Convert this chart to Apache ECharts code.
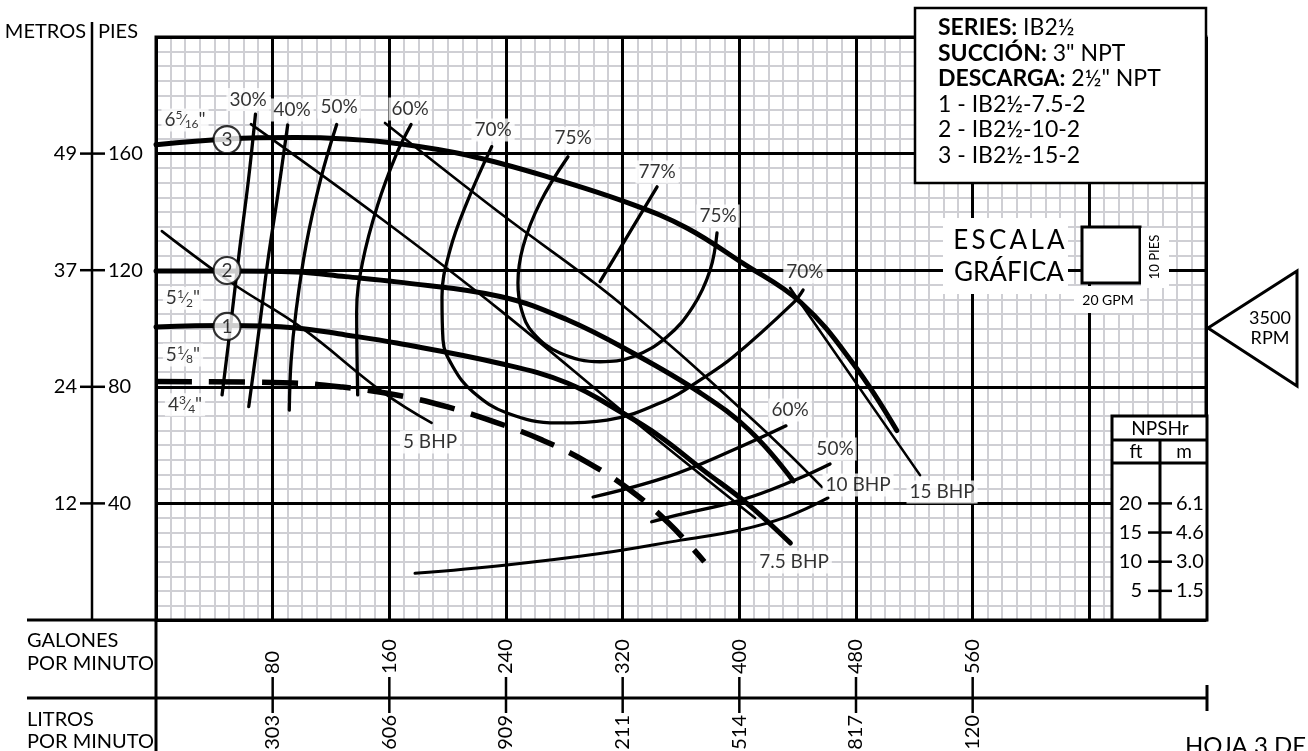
<!DOCTYPE html>
<html>
<head>
<meta charset="utf-8">
<title>IB2½ - curva de bomba</title>
<script src="https://cdn.jsdelivr.net/npm/echarts@6.0.0/dist/echarts.min.js"></script>
<style>
html, body { margin: 0; padding: 0; background: #fff; }
#chart { width: 1308px; height: 751px; }
</style>
</head>
<body>
<div id="chart"></div>
<script>
// axis ticks
var gpmTicks = [80, 160, 240, 320, 400, 480, 560];
var litrosTicks = ['303', '606', '909', '1211', '1514', '1817', '2120'];
var piesTicks = [40, 80, 120, 160];
var metrosTicks = ['12', '24', '37', '49'];
var npshFtTicks = [5, 10, 15, 20];
var npshMTicks = ['1.5', '3.0', '4.6', '6.1'];

// impeller curves [GPM, ft]
var imp3 = [[0,163],[49,165],[96,165.5],[130,165],[165,163.5],[213,159.5],[272,151.5],[327,142.5],[364,134.5],[402,122.5],[442,109],[478,88],[508,65]];
var imp2 = [[0,119.7],[49,119.7],[96,119.4],[130,117.8],[165,116],[236,111],[282,103],[327,91.6],[373,78],[407,65],[437,47.7]];
var imp1 = [[0,100.5],[49,101],[96,100.2],[130,97.8],[165,95],[236,88],[282,81.3],[320,71],[346,62.8],[375,51.5],[405,40.1],[435,26.4]];
var imp0 = [[0,81.8],[94,81.3],[128,79.9],[165,77.2],[200,73.1],[232,68],[265,61.7],[296,54],[325,44.6],[352,33],[376,20]];

// efficiency lines
var eff30 = [[68.2,173.5],[63.4,151],[57.3,127],[51.4,102],[45.3,77.2]];
var eff40 = [[90.3,169.8],[83.5,145.8],[76.6,122.9],[70.8,100.1],[63.6,73.2]];
var eff50 = [[123.9,170],[113.1,151.6],[102.9,128.6],[96,105.8],[92.6,88.6],[91.4,72]];
var eff60 = [[174.9,170],[164.6,159.5],[152,142.4],[141.7,122.9],[137.6,105.8],[138.3,77.2]];
var eff70 = [[230.2,162.4],[213.1,143.1],[201.6,126.9],[196.1,110.8],[196.8,96.1],[203.7,86.8],[217.4,78.2],[240.7,71],[275,67.6],[309.3,68.6],[350.4,75.5],[373,82.3],[395.7,90.2],[436.8,108.7],[443.7,113.2]];
var eff75 = [[282.5,158.9],[263.3,143.1],[251.7,128.1],[248.2,115.6],[250.7,106.3],[258.5,98.5],[277,91.6],[304.5,88.6],[327.1,90.3],[350.4,97.2],[368.2,107.5],[380,120.1],[384.7,132.8]];
var eff77 = [[343.6,148.6],[304.5,116.1]];
var eff60b = [[299.7,42.2],[350.4,49.1],[395.7,58.3],[432,66.6]];
var eff50b = [[339.9,33.7],[352.5,35.4],[401.6,41.2],[438.2,48],[462.2,53.5]];

// power lines
var bhp5 = [[4,133.4],[52,115.6],[100,100.2],[156,78],[189,67.6]];
var bhp75 = [[65.1,170.1],[155.7,137.2],[235.9,106.3],[327.1,68.6],[410.8,35]];
var bhp10 = [[157,170.5],[235.9,139.6],[318.2,108.7],[409.4,68.6],[456.7,45.6]];
var bhp15 = [[434.8,113.9],[523.9,49.7]];

// NPSHr curve
var npshrCurve = [[177.6,16],[240.5,18.9],[304.5,22.8],[360,27.4],[400.5,30.9],[432.4,35.4],[460.8,41.9]];

// impeller markers and curve labels
var circles = [[48.7,164.8,'3'],[48.7,119.9,'2'],[48.7,100.7,'1']];
var curveLabels = [
	[19.9,171.5,'6{sup|5}{sl|⁄}{sub|16}"'],
	[18.5,110.4,'5{sup|1}{sl|⁄}{sub|2}"'],
	[18.5,90.9,'5{sup|1}{sl|⁄}{sub|8}"'],
	[19.9,73.8,'4{sup|3}{sl|⁄}{sub|4}"'],
	[63.1,178.6,'30%'],
	[93.3,175,'40%'],
	[125.5,176,'50%'],
	[174.2,175.3,'60%'],
	[231.1,168.1,'70%'],
	[286,165.3,'75%'],
	[343.6,153.7,'77%'],
	[385.4,138.6,'75%'],
	[445,119.4,'70%'],
	[434.8,72,'60%'],
	[465.6,58.7,'50%'],
	[187.9,61.1,'5 BHP'],
	[437.5,19.9,'7.5 BHP'],
	[481.4,46.3,'10 BHP'],
	[539,43.9,'15 BHP']
];

var FONT = 'Lato';
var L = 156, T = 37, W = 1050, H = 583;
var R = L + W, B = T + H;
var GAXIS = B + 78;

var chart = echarts.init(document.getElementById('chart'));

function curve(data, width, dash) {
	return {
		type: 'line',
		data: data,
		xAxisIndex: 0,
		yAxisIndex: 0,
		symbol: 'none',
		smooth: 0.4,
		silent: true,
		z: 2,
		lineStyle: {color: '#000', width: width, type: dash || 'solid', cap: dash ? 'butt' : 'round'}
	};
}

function line(x1, y1, x2, y2, w, z) {
	return {type: 'line', z: z || 3, shape: {x1: x1, y1: y1, x2: x2, y2: y2}, style: {stroke: '#000', lineWidth: w}};
}
function box(x, y, w, h, lw) {
	return {type: 'rect', z: 3, shape: {x: x, y: y, width: w, height: h},
		style: lw ? {fill: '#fff', stroke: '#000', lineWidth: lw} : {fill: '#fff'}};
}
function text(str, x, y, size, align, extra) {
	var el = {type: 'text', z: 6, x: x, y: y, style: {
		text: str, x: 0, y: 0, font: size + 'px ' + FONT, fill: '#000',
		textAlign: align || 'left', textVerticalAlign: 'middle'
	}};
	if (extra) for (var k in extra) el[k] = extra[k];
	return el;
}

var richFrac = {
	sup: {fontSize: 12, fontFamily: FONT, color: '#000', verticalAlign: 'top', lineHeight: 21},
	sub: {fontSize: 12, fontFamily: FONT, color: '#000', verticalAlign: 'bottom', lineHeight: 21},
	sl: {fontSize: 16, fontFamily: FONT, color: '#000', lineHeight: 21}
};

var legendText = '{b|SERIES:} IB2½\n{b|SUCCIÓN:} 3" NPT\n{b|DESCARGA:} 2½" NPT\n1 - IB2½-7.5-2\n2 - IB2½-10-2\n3 - IB2½-15-2';

var graphics = [
	{type: 'rect', z: 1, shape: {x: L, y: T, width: W, height: H}, style: {fill: 'none', stroke: '#000', lineWidth: 3}},
	line(92, 22, 92, B, 2.5),
	line(27, B, L, B, 3),
	line(27, GAXIS, R + 1, GAXIS, 3),
	line(R + 1, GAXIS - 13, R + 1, GAXIS + 13, 3),
	line(L, B, L, 751, 3),
	box(915, 8, 291, 175, 2.5),
	box(943, 218, 125, 76),
	box(1082, 227, 58, 56, 3),
	box(1141, 228, 28, 60),
	box(1074, 286, 66, 27),
	box(1112, 416, 95, 204, 3),
	line(1112, 440, 1207, 440, 3),
	line(1112, 463, 1207, 463, 3),
	line(1160, 440, 1160, B, 3),
	{type: 'polygon', z: 3, shape: {points: [[1208, 328], [1297, 271], [1297, 386]]},
		style: {fill: '#fff', stroke: '#000', lineWidth: 3}},
	text('METROS', 86, 32, 20, 'right'),
	text('PIES', 98, 32, 20, 'left'),
	text('GALONES', 27, 641, 20),
	text('POR MINUTO', 27, 664, 20),
	text('LITROS', 27, 720, 20),
	text('POR MINUTO', 27, 742, 20),
	text('E\u2009S\u2009C\u2009A\u2009L\u2009A', 1009, 241, 26, 'center'),
	text('GRÁFICA', 1009, 273, 26, 'center'),
	text('10 PIES', 1155, 257, 13, 'center', {rotation: Math.PI / 2}),
	text('20 GPM', 1108, 300, 14, 'center'),
	text('3500', 1270, 318, 18, 'center'),
	text('RPM', 1270, 338, 18, 'center'),
	text('NPSHr', 1160, 429, 19, 'center'),
	text('ft', 1136, 452, 19, 'center'),
	text('m', 1184, 452, 19, 'center'),
	text('HOJA 3 DE 3', 1185, 746, 24, 'left'),
	{type: 'text', z: 6, x: 938, y: 15, style: {
		text: legendText, x: 0, y: 0, font: '23px ' + FONT, fill: '#000', lineHeight: 25.5,
		textAlign: 'left', textVerticalAlign: 'top',
		rich: {b: {font: 'bold 23px ' + FONT, fill: '#000', lineHeight: 25.5}}
	}}
];

var axisFont = {fontFamily: FONT, fontSize: 20, color: '#000'};
var noTick = {show: false};
var hidden = {show: false};

var option = {
	animation: false,
	backgroundColor: '#fff',
	grid: [
		{left: L, top: T, width: W, height: H, show: false, containLabel: false, outerBoundsMode: 'none'},
		{left: 1160, top: T, width: 46, height: H, show: false, containLabel: false, outerBoundsMode: 'none'}
	],
	xAxis: [
		{
			// GPM labels + major grid
			type: 'value', gridIndex: 0, min: 0, max: 720, interval: 80,
			position: 'bottom', offset: GAXIS - B, z: 1,
			axisLine: hidden, axisTick: noTick,
			axisLabel: Object.assign({inside: true, rotate: 90, margin: 24, customValues: gpmTicks}, axisFont),
			splitLine: {show: true, lineStyle: {color: '#000', width: 3}}
		},
		{
			// litros labels
			type: 'value', gridIndex: 0, min: 0, max: 720, interval: 80,
			position: 'bottom', offset: GAXIS - B, z: 1,
			axisLine: hidden, axisTick: noTick,
			axisLabel: Object.assign({rotate: 90, margin: 17, customValues: gpmTicks,
				formatter: function (v) { return litrosTicks[gpmTicks.indexOf(v)]; }}, axisFont),
			splitLine: hidden
		},
		{
			// minor grid every 10 GPM
			type: 'value', gridIndex: 0, min: 0, max: 720, interval: 10, position: 'top', z: 0,
			axisLine: hidden, axisTick: noTick, axisLabel: hidden,
			splitLine: {show: true, lineStyle: {color: '#cfcfd4', width: 2}}
		},
		{type: 'value', gridIndex: 1, min: 0, max: 1, show: false}
	],
	yAxis: [
		{
			// pies labels + major grid
			type: 'value', gridIndex: 0, min: 0, max: 200, interval: 40,
			position: 'left', offset: L - 92, z: 1,
			axisLine: hidden, axisTick: noTick,
			axisLabel: Object.assign({inside: true, margin: 16, customValues: piesTicks}, axisFont),
			splitLine: {show: true, lineStyle: {color: '#000', width: 3}}
		},
		{
			// metros labels
			type: 'value', gridIndex: 0, min: 0, max: 200, interval: 40,
			position: 'left', offset: L - 92, z: 1,
			axisLine: hidden, axisTick: noTick,
			axisLabel: Object.assign({margin: 15, customValues: piesTicks,
				formatter: function (v) { return metrosTicks[piesTicks.indexOf(v)]; }}, axisFont),
			splitLine: hidden
		},
		{
			// minor grid every 5 ft
			type: 'value', gridIndex: 0, min: 0, max: 200, interval: 5, position: 'right', z: 0,
			axisLine: hidden, axisTick: noTick, axisLabel: hidden,
			splitLine: {show: true, lineStyle: {color: '#cfcfd4', width: 2}}
		},
		{
			type: 'value', gridIndex: 1, min: 0, max: 100, position: 'left', z: 5,
			axisLine: hidden, axisTick: noTick,
			axisLabel: Object.assign({margin: 18, customValues: npshFtTicks}, axisFont),
			splitLine: hidden
		},
		{
			type: 'value', gridIndex: 1, min: 0, max: 100, position: 'left', z: 5,
			axisLine: hidden, axisTick: noTick,
			axisLabel: Object.assign({inside: true, margin: 16, customValues: npshFtTicks,
				formatter: function (v) { return npshMTicks[npshFtTicks.indexOf(v)]; }}, axisFont),
			splitLine: hidden
		}
	],
	series: [
		curve(imp3, 5),
		curve(imp2, 5),
		curve(imp1, 5),
		curve(imp0, 5.5, [36, 17]),
		curve(eff30, 3.3),
		curve(eff40, 3.3),
		curve(eff50, 3.3),
		curve(eff60, 3.3),
		curve(eff70, 3.3),
		curve(eff75, 3.3),
		curve(eff77, 3.3),
		curve(eff60b, 3.3),
		curve(eff50b, 3.3),
		curve(bhp5, 2.6),
		curve(bhp75, 2.6),
		curve(bhp10, 2.6),
		curve(bhp15, 2.6),
		curve(npshrCurve, 3),
		{
			type: 'scatter', data: curveLabels, symbolSize: 1, silent: true, z: 4,
			itemStyle: {color: 'rgba(0,0,0,0)'},
			label: {
				show: true, position: 'inside', color: '#000', fontFamily: FONT, fontSize: 19, lineHeight: 21,
				backgroundColor: '#fff', padding: [1, 3],
				formatter: function (p) { return p.data[2]; },
				rich: richFrac
			}
		},
		{
			type: 'scatter', data: circles, symbol: 'circle', symbolSize: 27, silent: true, z: 5,
			itemStyle: {color: '#fff', borderColor: '#000', borderWidth: 2.2},
			label: {show: true, position: 'inside', color: '#000', fontFamily: FONT, fontSize: 19,
				formatter: function (p) { return p.data[2]; }}
		}
	],
	graphic: {elements: graphics}
};

chart.setOption(option);

// tick marks placed through the axes' own scales
gpmTicks.forEach(function (v) {
	var x = chart.convertToPixel({xAxisIndex: 0}, v);
	graphics.push(line(x, GAXIS - 21, x, GAXIS + 15, 2.5));
});
piesTicks.forEach(function (v) {
	var y = chart.convertToPixel({yAxisIndex: 0}, v);
	graphics.push(line(80, y, 105, y, 2.5));
});
npshFtTicks.forEach(function (v) {
	var y = chart.convertToPixel({yAxisIndex: 3}, v);
	graphics.push(line(1148, y, 1172, y, 2.5, 6));
});
chart.setOption({graphic: {elements: graphics}});
</script>
</body>
</html>
